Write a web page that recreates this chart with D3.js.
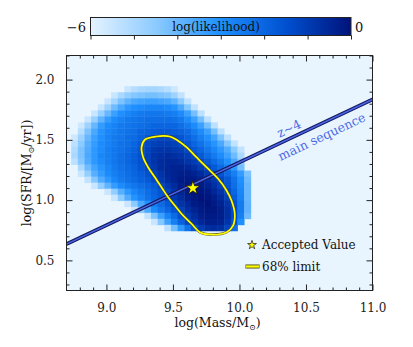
<!DOCTYPE html>
<html><head><meta charset="utf-8">
<script src="https://cdn.jsdelivr.net/npm/d3@7"></script>
<style>
body{margin:0;background:#fff}
svg{display:block}
text{font-family:"DejaVu Serif",serif;fill:#111}
</style>
</head><body>
<svg id="chart" width="413" height="347"></svg>
<script>
// ---------------- DATA ----------------
const massBins = [8.76,8.81,8.86,8.91,8.96,9.01,9.06,9.11,9.16,9.21,9.26,9.31,9.36,9.41,9.46,9.51,9.56,9.61,9.66,9.71,9.76,9.81,9.86,9.91,9.96,10.01,10.06];
const sfrBins = [1.92,1.87,1.82,1.77,1.72,1.67,1.62,1.57,1.52,1.47,1.42,1.37,1.32,1.27,1.22,1.17,1.12,1.07,1.02,0.97,0.92,0.87,0.82,0.77];
const rowStart = [8,6,5,4,3,2,1,1,0,0,0,0,0,1,1,2,3,5,6,8,9,11,12,14];
const logLike = [
 [-5.5,-5.2,-5.0,-4.9,-4.9,-5.0,-5.2,-5.6],
 [-5.5,-5.0,-4.6,-4.4,-4.3,-4.2,-4.2,-4.3,-4.4,-4.8,-5.4],
 [-5.5,-4.9,-4.3,-3.9,-3.6,-3.5,-3.4,-3.4,-3.5,-3.6,-3.9,-4.5,-5.4],
 [-5.5,-4.8,-4.1,-3.6,-3.2,-3.0,-2.9,-2.8,-2.8,-2.8,-2.9,-3.1,-3.6,-4.4,-5.4],
 [-5.5,-4.7,-4.0,-3.4,-3.0,-2.8,-2.6,-2.5,-2.4,-2.4,-2.4,-2.5,-2.6,-2.9,-3.4,-4.2,-5.3],
 [-5.5,-4.7,-3.9,-3.3,-2.9,-2.7,-2.5,-2.4,-2.3,-2.2,-2.2,-2.2,-2.2,-2.3,-2.5,-2.9,-3.4,-4.2,-5.3],
 [-5.6,-4.8,-4.0,-3.3,-2.9,-2.7,-2.5,-2.4,-2.3,-2.2,-2.1,-2.0,-2.0,-2.0,-2.0,-2.2,-2.5,-2.9,-3.4,-4.2,-5.3],
 [-5.2,-4.3,-3.6,-3.1,-2.8,-2.6,-2.4,-2.3,-2.2,-2.0,-1.9,-1.8,-1.7,-1.7,-1.8,-1.9,-2.1,-2.5,-2.9,-3.4,-4.2,-5.3],
 [-5.6,-4.8,-4.0,-3.4,-3.0,-2.7,-2.5,-2.4,-2.2,-2.1,-1.9,-1.6,-1.4,-1.3,-1.3,-1.4,-1.6,-1.9,-2.2,-2.6,-3.0,-3.5,-4.3,-5.3],
 [-5.3,-4.5,-3.8,-3.3,-2.9,-2.7,-2.5,-2.3,-2.2,-2.0,-1.7,-1.3,-1.1,-1.0,-1.0,-1.1,-1.3,-1.6,-2.0,-2.3,-2.7,-3.1,-3.6,-4.4,-5.4],
 [-5.1,-4.3,-3.7,-3.2,-2.9,-2.6,-2.4,-2.3,-2.1,-1.9,-1.6,-1.2,-0.9,-0.8,-0.8,-0.9,-1.0,-1.3,-1.7,-2.0,-2.4,-2.8,-3.2,-3.7,-4.5,-5.4],
 [-5.0,-4.3,-3.6,-3.2,-2.8,-2.6,-2.4,-2.2,-2.0,-1.8,-1.5,-1.1,-0.8,-0.7,-0.6,-0.7,-0.8,-1.0,-1.3,-1.7,-2.1,-2.5,-2.9,-3.4,-4.1,-5.0],
 [-5.3,-4.4,-3.7,-3.2,-2.9,-2.6,-2.4,-2.2,-2.0,-1.8,-1.5,-1.1,-0.8,-0.6,-0.5,-0.5,-0.6,-0.8,-1.0,-1.3,-1.7,-2.1,-2.5,-3.0,-3.6,-4.5],
 [-5.0,-4.1,-3.5,-3.1,-2.8,-2.5,-2.3,-2.1,-1.9,-1.6,-1.2,-0.9,-0.6,-0.5,-0.4,-0.4,-0.5,-0.7,-1.0,-1.3,-1.7,-2.1,-2.6,-3.2,-4.2],
 [-5.5,-4.6,-3.8,-3.3,-2.9,-2.6,-2.4,-2.2,-2.0,-1.8,-1.5,-1.1,-0.8,-0.5,-0.4,-0.3,-0.3,-0.4,-0.6,-0.9,-1.2,-1.6,-2.1,-2.6,-3.3,-4.3],
 [-5.4,-4.4,-3.7,-3.2,-2.8,-2.5,-2.3,-2.1,-1.9,-1.7,-1.3,-0.9,-0.6,-0.4,-0.2,-0.2,-0.2,-0.4,-0.6,-0.9,-1.2,-1.7,-2.3,-3.0,-4.1],
 [-5.5,-4.6,-3.9,-3.3,-2.9,-2.6,-2.4,-2.2,-2.0,-1.7,-1.3,-0.9,-0.6,-0.3,-0.1,-0.1,-0.2,-0.4,-0.7,-1.1,-1.6,-2.2,-2.9,-4.0],
 [-5.5,-4.6,-3.8,-3.2,-2.8,-2.5,-2.2,-1.9,-1.6,-1.2,-0.8,-0.5,-0.2,0.0,-0.1,-0.2,-0.5,-0.8,-1.3,-2.0,-2.8,-4.0],
 [-5.5,-4.5,-3.7,-3.1,-2.7,-2.3,-2.0,-1.7,-1.3,-0.9,-0.6,-0.3,-0.1,0.0,-0.1,-0.3,-0.6,-1.1,-1.8,-2.7,-4.0],
 [-5.5,-4.5,-3.6,-3.0,-2.5,-2.1,-1.7,-1.2,-0.8,-0.5,-0.2,-0.1,0.0,-0.2,-0.4,-0.8,-1.5,-2.5,-3.9],
 [-5.5,-4.5,-3.6,-2.9,-2.4,-2.0,-1.6,-1.1,-0.7,-0.4,-0.2,-0.1,-0.1,-0.3,-0.7,-1.4,-2.5,-3.9],
 [-5.4,-4.3,-3.4,-2.7,-2.1,-1.5,-1.0,-0.6,-0.3,-0.2,-0.2,-0.3,-0.7,-1.4,-2.6,-4.1],
 [-5.5,-4.4,-3.4,-2.6,-1.9,-1.3,-0.8,-0.5,-0.3,-0.3,-0.4,-0.8,-1.6,-3.0],
 [-5.3,-4.2,-3.2,-2.3,-1.6,-1.0,-0.7,-0.6,-0.7,-1.2,-2.2]
];
const cellHalf = 0.025;

const contourMass = [9.264,9.289,9.376,9.476,9.527,9.602,9.677,9.752,9.840,9.903,9.940,9.965,9.952,9.903,9.777,9.702,9.640,9.564,9.514,9.464,9.414,9.364,9.313,9.276];
const contourSfr  = [1.439,1.501,1.528,1.528,1.501,1.439,1.356,1.273,1.177,1.080,0.997,0.887,0.789,0.734,0.715,0.734,0.804,0.887,0.955,1.024,1.107,1.190,1.273,1.356];

const starMass = [9.65];
const starSfr = [1.10];

const msMass = [8.7, 11.0];
const msSfr = [0.635, 1.835];

const xTicks = [9.0, 9.5, 10.0, 10.5, 11.0];
const yTicks = [0.5, 1.0, 1.5, 2.0];
const cbarTicks = [-6, -5, -4, -3, -2, -1, 0];
const cbarLabels = ["\u22126", "0"];

// ---------------- SETUP ----------------
const svg = d3.select("#chart");
const W = 413, H = 347;
svg.append("rect").attr("width", W).attr("height", H).attr("fill", "#fff");

const x = d3.scaleLinear().domain([8.7, 11.0]).range([66.5, 372.5]);
const y = d3.scaleLinear().domain([0.25, 2.2]).range([290.5, 55.5]);

const color = d3.scaleLinear()
  .domain([-6, -4.5, -3, -1.5, 0])
  .range(["#e6f3ff", "#8ccbff", "#1e90ff", "#0050d0", "#00137a"])
  .interpolate(d3.interpolateRgb)
  .clamp(true);

const defs = svg.append("defs");
defs.append("clipPath").attr("id", "plotclip").append("rect")
  .attr("x", x.range()[0]).attr("y", y.range()[1])
  .attr("width", x.range()[1] - x.range()[0]).attr("height", y.range()[0] - y.range()[1]);

svg.append("rect")
  .attr("x", x.range()[0]).attr("y", y.range()[1])
  .attr("width", x.range()[1] - x.range()[0]).attr("height", y.range()[0] - y.range()[1])
  .attr("fill", "#e8f5ff");

const plot = svg.append("g").attr("clip-path", "url(#plotclip)");

const cells = [];
logLike.forEach((row, r) => {
  row.forEach((v, i) => {
    cells.push({m: massBins[rowStart[r] + i], s: sfrBins[r], v: v});
  });
});
plot.append("g").selectAll("rect").data(cells).join("rect")
  .attr("x", d => x(d.m - cellHalf))
  .attr("y", d => y(d.s + cellHalf))
  .attr("width", d => x(d.m + cellHalf) - x(d.m - cellHalf) + 0.4)
  .attr("height", d => y(d.s - cellHalf) - y(d.s + cellHalf) + 0.4)
  .attr("fill", d => color(d.v));

const msPts = msMass.map((m, i) => [m, msSfr[i]]);
const lineGen = d3.line().x(d => x(d[0])).y(d => y(d[1]));
plot.append("path").attr("d", lineGen(msPts)).attr("fill", "none")
  .attr("stroke", "#16165e").attr("stroke-width", 3.6);
plot.append("path").attr("d", lineGen(msPts)).attr("fill", "none")
  .attr("stroke", "#4767e4").attr("stroke-width", 1.6);

const cPts = contourMass.map((m, i) => [m, contourSfr[i]]);
const cLine = d3.line().x(d => x(d[0])).y(d => y(d[1])).curve(d3.curveCatmullRomClosed.alpha(0.5));
plot.append("path").attr("d", cLine(cPts)).attr("fill", "none")
  .attr("stroke", "#4a4a20").attr("stroke-width", 2.6);
plot.append("path").attr("d", cLine(cPts)).attr("fill", "none")
  .attr("stroke", "#ffff00").attr("stroke-width", 1.7);

plot.selectAll("path.star").data(starMass.map((m, i) => [m, starSfr[i]])).join("path")
  .attr("class", "star")
  .attr("transform", d => `translate(${x(d[0])},${y(d[1])})`)
  .attr("d", d3.symbol(d3.symbolStar).size(62)())
  .attr("fill", "#ffff00").attr("stroke", "#111").attr("stroke-width", 0.8);

const angle = Math.atan2(y(msSfr[0]) - y(msSfr[1]), x(msMass[1]) - x(msMass[0])) * 180 / Math.PI;
svg.append("text")
  .attr("transform", `translate(289,128.5) rotate(${-angle})`)
  .attr("text-anchor", "middle").attr("dy", "0.35em")
  .attr("font-size", 12.5).style("fill", "#4d6be6")
  .text("z~4");
svg.append("text")
  .attr("transform", `translate(321.7,136.7) rotate(${-angle})`)
  .attr("text-anchor", "middle").attr("dy", "0.35em")
  .attr("font-size", 12.5).style("fill", "#4d6be6")
  .text("main sequence");

// ---------------- AXES ----------------
const xMinor = d3.range(88, 111).map(v => v / 10).filter(v => !xTicks.some(t => Math.abs(t - v) < 1e-6));
const yMinor = d3.range(3, 23).map(v => v / 10).filter(v => !yTicks.some(t => Math.abs(t - v) < 1e-6));

function styleAxis(g) {
  g.select(".domain").remove();
  g.selectAll("line").attr("stroke", "#222").attr("stroke-width", 1);
  g.selectAll("text").attr("font-size", 12).attr("font-family", "DejaVu Serif").style("fill", "#222");
}
const x0 = x.range()[0], x1 = x.range()[1], y0 = y.range()[0], y1 = y.range()[1];

svg.append("g").attr("transform", `translate(0,${y0})`)
  .call(d3.axisBottom(x).tickValues(xTicks).tickFormat(d3.format(".1f")).tickSizeInner(-6).tickSizeOuter(0).tickPadding(13))
  .call(styleAxis);
svg.append("g").attr("transform", `translate(0,${y0})`)
  .call(d3.axisBottom(x).tickValues(xMinor).tickFormat("").tickSizeInner(-3).tickSizeOuter(0))
  .call(styleAxis);
svg.append("g").attr("transform", `translate(0,${y1})`)
  .call(d3.axisTop(x).tickValues(xTicks).tickFormat("").tickSizeInner(-6).tickSizeOuter(0))
  .call(styleAxis);
svg.append("g").attr("transform", `translate(0,${y1})`)
  .call(d3.axisTop(x).tickValues(xMinor).tickFormat("").tickSizeInner(-3).tickSizeOuter(0))
  .call(styleAxis);

svg.append("g").attr("transform", `translate(${x0},0)`)
  .call(d3.axisLeft(y).tickValues(yTicks).tickFormat(d3.format(".1f")).tickSizeInner(-6).tickSizeOuter(0).tickPadding(12))
  .call(styleAxis);
svg.append("g").attr("transform", `translate(${x0},0)`)
  .call(d3.axisLeft(y).tickValues(yMinor).tickFormat("").tickSizeInner(-3).tickSizeOuter(0))
  .call(styleAxis);
svg.append("g").attr("transform", `translate(${x1},0)`)
  .call(d3.axisRight(y).tickValues(yTicks).tickFormat("").tickSizeInner(-6).tickSizeOuter(0))
  .call(styleAxis);
svg.append("g").attr("transform", `translate(${x1},0)`)
  .call(d3.axisRight(y).tickValues(yMinor).tickFormat("").tickSizeInner(-3).tickSizeOuter(0))
  .call(styleAxis);

svg.append("rect").attr("x", x0).attr("y", y1).attr("width", x1 - x0).attr("height", y0 - y1)
  .attr("fill", "none").attr("stroke", "#222").attr("stroke-width", 1);

const xt = svg.append("text").attr("x", (x0 + x1) / 2 - 2).attr("y", 327)
  .attr("text-anchor", "middle").attr("font-size", 12.5);
xt.append("tspan").text("log(Mass/M");
xt.append("tspan").attr("font-size", 8).attr("dy", 3).text("\u2299");
xt.append("tspan").attr("dy", -3).text(")");

const yt = svg.append("text").attr("transform", `translate(31,${(y0 + y1) / 2}) rotate(-90)`)
  .attr("text-anchor", "middle").attr("font-size", 12.5);
yt.append("tspan").text("log(SFR/[M");
yt.append("tspan").attr("font-size", 8).attr("dy", 3).text("\u2299");
yt.append("tspan").attr("dy", -3).text("/yr])");

// ---------------- COLORBAR ----------------
const cb = d3.scaleLinear().domain([-6, 0]).range([90.5, 351]);
const grad = defs.append("linearGradient").attr("id", "cbgrad").attr("x1", "0%").attr("x2", "100%");
d3.range(0, 61).forEach(i => {
  const v = -6 + i * 0.1;
  grad.append("stop").attr("offset", (i / 60 * 100) + "%").attr("stop-color", color(v));
});
svg.append("rect").attr("x", cb.range()[0]).attr("y", 17.5).attr("width", cb.range()[1] - cb.range()[0]).attr("height", 18)
  .attr("fill", "url(#cbgrad)").attr("stroke", "#222").attr("stroke-width", 1);
svg.append("g").attr("transform", "translate(0,35.5)")
  .call(d3.axisBottom(cb).tickValues(cbarTicks).tickFormat("").tickSizeInner(4).tickSizeOuter(0))
  .call(styleAxis);
svg.append("text").attr("x", 86).attr("y", 32).attr("text-anchor", "end").attr("font-size", 13).text(cbarLabels[0]);
svg.append("text").attr("x", 355).attr("y", 32).attr("text-anchor", "start").attr("font-size", 13).text(cbarLabels[1]);
svg.append("text").attr("x", 216).attr("y", 31).attr("text-anchor", "middle").attr("font-size", 12).text("log(likelihood)");

// ---------------- LEGEND ----------------
svg.append("path").attr("transform", "translate(252,245)")
  .attr("d", d3.symbol(d3.symbolStar).size(24)())
  .attr("fill", "#ffff00").attr("stroke", "#111").attr("stroke-width", 0.7);
svg.append("text").attr("x", 262).attr("y", 249).attr("font-size", 12).text("Accepted Value");
svg.append("line").attr("x1", 245.5).attr("x2", 259.5).attr("y1", 266.5).attr("y2", 266.5)
  .attr("stroke", "#4a4a10").attr("stroke-width", 4);
svg.append("line").attr("x1", 246).attr("x2", 259).attr("y1", 266.5).attr("y2", 266.5)
  .attr("stroke", "#ffff00").attr("stroke-width", 2.2);
svg.append("text").attr("x", 262).attr("y", 270.5).attr("font-size", 12).text("68% limit");
</script>
</body></html>
